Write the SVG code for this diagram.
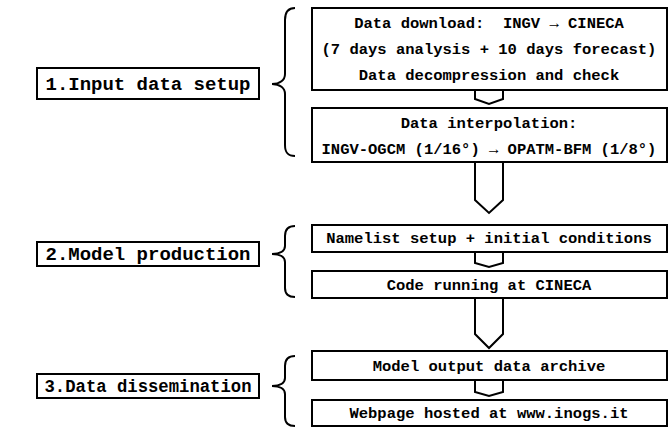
<svg xmlns="http://www.w3.org/2000/svg" width="672" height="428" viewBox="0 0 672 428">
<style>
.box{fill:#fff;stroke:#000;stroke-width:2}
.t{font-family:"Liberation Mono","DejaVu Sans Mono",monospace;font-weight:bold;font-size:15.5px;text-anchor:middle;fill:#000}
.lt{font-family:"Liberation Mono","DejaVu Sans Mono",monospace;font-weight:bold;font-size:18px;text-anchor:middle;fill:#000}
.c{fill:#fff;stroke:#000;stroke-width:2;stroke-linejoin:miter}
.br{fill:none;stroke:#000;stroke-width:2}
</style>
<rect width="672" height="428" fill="#fff"/>
<g id="connectors">
<polyline class="c" points="475,90 475,99 489,104 503,99 503,90"/>
<polyline class="c" points="475,162 475,200 489,213 503,200 503,162"/>
<polyline class="c" points="475,252 475,263 489,267 503,263 503,252"/>
<polyline class="c" points="475,298 475,334 489,348 503,334 503,298"/>
<polyline class="c" points="475,380 475,392 489,396 503,392 503,380"/>
<path class="br" d="M295,8 C288,8 285,12 285,20 L285,74 C285,80 280,84 272,84 C280,84 285,88 285,94 L285,145 C285,153 288,156 295,156"/>
<path class="br" d="M295,226 C288,226 285,229 285,236 L285,246 C285,251 280,254 272,254 C280,254 285,257 285,262 L285,288 C285,294 288,297 295,297"/>
<path class="br" d="M295,356 C288,356 285,359 285,366 L285,378 C285,383 280,386 272,386 C280,386 285,389 285,394 L285,417 C285,423 288,426 295,426"/>
</g>
<g id="label1"><rect class="box" x="37" y="68" width="222" height="31"/><text class="lt" x="148" y="90" textLength="205" lengthAdjust="spacingAndGlyphs">1.Input data setup</text></g>
<g id="label2"><rect class="box" x="37" y="242" width="222" height="24"/><text class="lt" x="148" y="260" textLength="205" lengthAdjust="spacingAndGlyphs">2.Model production</text></g>
<g id="label3"><rect class="box" x="37" y="374" width="222" height="24"/><text class="lt" x="148" y="392" textLength="207" lengthAdjust="spacingAndGlyphs">3.Data dissemination</text></g>
<g id="box1"><rect class="box" x="312" y="8" width="355" height="82"/>
<text class="t" x="489" y="28" xml:space="preserve">Data download:  INGV → CINECA</text>
<text class="t" x="489" y="54">(7 days analysis + 10 days forecast)</text>
<text class="t" x="489" y="80">Data decompression and check</text></g>
<g id="box2"><rect class="box" x="312" y="108" width="355" height="54"/>
<text class="t" x="489" y="128">Data interpolation:</text>
<text class="t" x="489" y="154">INGV-OGCM (1/16°) → OPATM-BFM (1/8°)</text></g>
<g id="box3"><rect class="box" x="312" y="225" width="355" height="27"/><text class="t" x="489" y="243">Namelist setup + initial conditions</text></g>
<g id="box4"><rect class="box" x="312" y="271" width="355" height="27"/><text class="t" x="489" y="290">Code running at CINECA</text></g>
<g id="box5"><rect class="box" x="312" y="351" width="355" height="29"/><text class="t" x="489" y="371">Model output data archive</text></g>
<g id="box6"><rect class="box" x="312" y="400" width="355" height="26"/><text class="t" x="489" y="418">Webpage hosted at www.inogs.it</text></g>
</svg>
